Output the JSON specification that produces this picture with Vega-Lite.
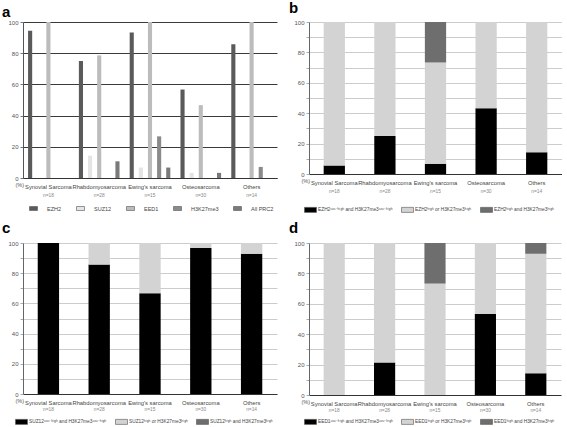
{
  "$schema": "https://vega.github.io/schema/vega-lite/v6.json",
  "background": "white",
  "padding": {"left": 2, "top": 1, "right": 0, "bottom": 0},
  "config": {
    "view": {"stroke": null},
    "font": "Liberation Sans",
    "title": {"font": "Liberation Sans", "fontSize": 15, "fontWeight": "bold", "color": "#000", "anchor": "start", "frame": "group", "offset": 0},
    "axis": {"labelFontSize": 6, "labelColor": "#555", "labelFont": "Liberation Sans", "titleFont": "Liberation Sans", "titleFontSize": 5.5, "titleFontWeight": "normal", "titleColor": "#555"},
    "legend": {"labelFont": "Liberation Sans", "labelColor": "#444", "title": null}
  },
  "resolve": {"scale": {"color": "independent"}, "legend": {"color": "independent"}},
  "spacing": 7,
  "vconcat": [
    {
      "spacing": 12,
      "resolve": {"scale": {"color": "independent"}, "legend": {"color": "independent"}},
      "hconcat": [
        {
          "title": {"text": "a", "dx": -21, "offset": -1},
          "width": 254,
          "height": 156,
          "data": {"values": [
            {"cat": "Synovial Sarcoma|n=18", "m": "EZH2", "v": 94.4},
            {"cat": "Synovial Sarcoma|n=18", "m": "SUZ12", "v": 0},
            {"cat": "Synovial Sarcoma|n=18", "m": "EED1", "v": 100},
            {"cat": "Synovial Sarcoma|n=18", "m": "H3K27me3", "v": 0},
            {"cat": "Synovial Sarcoma|n=18", "m": "All PRC2", "v": 0},
            {"cat": "Rhabdomyosarcoma|n=28", "m": "EZH2", "v": 75},
            {"cat": "Rhabdomyosarcoma|n=28", "m": "SUZ12", "v": 14.3},
            {"cat": "Rhabdomyosarcoma|n=28", "m": "EED1", "v": 78.6},
            {"cat": "Rhabdomyosarcoma|n=28", "m": "H3K27me3", "v": 0},
            {"cat": "Rhabdomyosarcoma|n=28", "m": "All PRC2", "v": 10.7},
            {"cat": "Ewing's sarcoma|n=15", "m": "EZH2", "v": 93.3},
            {"cat": "Ewing's sarcoma|n=15", "m": "SUZ12", "v": 6.7},
            {"cat": "Ewing's sarcoma|n=15", "m": "EED1", "v": 100},
            {"cat": "Ewing's sarcoma|n=15", "m": "H3K27me3", "v": 26.7},
            {"cat": "Ewing's sarcoma|n=15", "m": "All PRC2", "v": 6.7},
            {"cat": "Osteosarcoma|n=30", "m": "EZH2", "v": 56.7},
            {"cat": "Osteosarcoma|n=30", "m": "SUZ12", "v": 3.3},
            {"cat": "Osteosarcoma|n=30", "m": "EED1", "v": 46.7},
            {"cat": "Osteosarcoma|n=30", "m": "H3K27me3", "v": 0},
            {"cat": "Osteosarcoma|n=30", "m": "All PRC2", "v": 3.3},
            {"cat": "Others|n=14", "m": "EZH2", "v": 85.7},
            {"cat": "Others|n=14", "m": "SUZ12", "v": 0},
            {"cat": "Others|n=14", "m": "EED1", "v": 100},
            {"cat": "Others|n=14", "m": "H3K27me3", "v": 7.1},
            {"cat": "Others|n=14", "m": "All PRC2", "v": 0}
          ]},
          "layer": [
            {
              "mark": {"type": "bar"},
              "encoding": {
                "x": {"field": "cat", "type": "nominal", "sort": null, "title": null,
                  "scale": {"paddingInner": 0.2, "paddingOuter": 0.1},
                  "axis": {"labelExpr": "split(datum.label, '|')[0]", "labelAngle": 0, "ticks": false, "domainColor": "#333", "labelFontSize": 5.8, "labelColor": "#444", "labelPadding": 5}},
                "xOffset": {"field": "m", "type": "nominal", "sort": ["EZH2", "SUZ12", "EED1", "H3K27me3", "All PRC2"], "scale": {"paddingInner": 0.55, "paddingOuter": 0}},
                "y": {"field": "v", "type": "quantitative", "scale": {"domain": [0, 100]},
                  "axis": {"values": [0, 20, 40, 60, 80, 100], "grid": true, "gridColor": "#3a3a3a", "gridOpacity": 1, "domainColor": "#555", "tickSize": 3, "tickColor": "#777", "title": "(%)", "titleAngle": 0, "titleAlign": "left", "titleBaseline": "middle", "titleX": -8, "titleY": 162}},
                "color": {"field": "m", "type": "nominal",
                  "scale": {"domain": ["EZH2", "SUZ12", "EED1", "H3K27me3", "All PRC2"], "range": ["#5a5a5a", "#e4e4e4", "#bcbcbc", "#8a8a8a", "#7a7a7a"]},
                  "legend": {"orient": "none", "legendX": 6, "legendY": 182, "direction": "horizontal", "symbolType": "M-1,-0.5H1V0.5H-1Z", "symbolSize": 64, "symbolStrokeColor": "#555", "symbolStrokeWidth": 0.6, "labelFontSize": 5.5, "labelOffset": 9, "columnPadding": 13}}
              }
            },
            {
              "mark": {"type": "bar", "opacity": 0},
              "encoding": {
                "x": {"field": "cat", "type": "nominal", "sort": null, "title": null,
                  "axis": {"orient": "bottom", "offset": 9, "labelExpr": "split(datum.label, '|')[1]", "labelAngle": 0, "ticks": false, "domain": false, "labelFontSize": 4.8, "labelColor": "#888", "labelPadding": 5}}
              }
            }
          ],
          "resolve": {"axis": {"x": "independent"}}
        },
        {
          "title": {"text": "b", "dx": -20, "offset": 3},
          "width": 253,
          "height": 152,
          "data": {"values": [
            {"cat": "Synovial Sarcoma|n=18", "g": "EZH2ⁿᵒⁿ⁻ʰⁱᵍʰ and H3K27me3ⁿᵒⁿ⁻ʰⁱᵍʰ", "k": 1, "v": 5.6},
            {"cat": "Synovial Sarcoma|n=18", "g": "EZH2ʰⁱᵍʰ or H3K27me3ʰⁱᵍʰ", "k": 2, "v": 94.4},
            {"cat": "Rhabdomyosarcoma|n=28", "g": "EZH2ⁿᵒⁿ⁻ʰⁱᵍʰ and H3K27me3ⁿᵒⁿ⁻ʰⁱᵍʰ", "k": 1, "v": 25},
            {"cat": "Rhabdomyosarcoma|n=28", "g": "EZH2ʰⁱᵍʰ or H3K27me3ʰⁱᵍʰ", "k": 2, "v": 75},
            {"cat": "Ewing's sarcoma|n=15", "g": "EZH2ⁿᵒⁿ⁻ʰⁱᵍʰ and H3K27me3ⁿᵒⁿ⁻ʰⁱᵍʰ", "k": 1, "v": 6.7},
            {"cat": "Ewing's sarcoma|n=15", "g": "EZH2ʰⁱᵍʰ or H3K27me3ʰⁱᵍʰ", "k": 2, "v": 66.6},
            {"cat": "Ewing's sarcoma|n=15", "g": "EZH2ʰⁱᵍʰ and H3K27me3ʰⁱᵍʰ", "k": 3, "v": 26.7},
            {"cat": "Osteosarcoma|n=30", "g": "EZH2ⁿᵒⁿ⁻ʰⁱᵍʰ and H3K27me3ⁿᵒⁿ⁻ʰⁱᵍʰ", "k": 1, "v": 43.3},
            {"cat": "Osteosarcoma|n=30", "g": "EZH2ʰⁱᵍʰ or H3K27me3ʰⁱᵍʰ", "k": 2, "v": 56.7},
            {"cat": "Others|n=14", "g": "EZH2ⁿᵒⁿ⁻ʰⁱᵍʰ and H3K27me3ⁿᵒⁿ⁻ʰⁱᵍʰ", "k": 1, "v": 14.3},
            {"cat": "Others|n=14", "g": "EZH2ʰⁱᵍʰ or H3K27me3ʰⁱᵍʰ", "k": 2, "v": 85.7}
          ]},
          "layer": [
            {
              "mark": {"type": "bar"},
              "encoding": {
                "x": {"field": "cat", "type": "nominal", "sort": null, "title": null,
                  "scale": {"paddingInner": 0.58, "paddingOuter": 0.29},
                  "axis": {"labelExpr": "split(datum.label, '|')[0]", "labelAngle": 0, "ticks": false, "domainColor": "#333", "labelFontSize": 5.8, "labelColor": "#444", "labelPadding": 5}},
                "y": {"field": "v", "type": "quantitative", "stack": "zero", "scale": {"domain": [0, 100]},
                  "axis": {"values": [0, 10, 20, 30, 40, 50, 60, 70, 80, 90, 100], "labelExpr": "datum.value % 20 == 0 ? datum.label : ''", "grid": true, "gridColor": "#cccccc", "gridOpacity": 1, "domainColor": "#666", "tickSize": 3, "tickColor": "#aaa", "title": "(%)", "titleAngle": 0, "titleAlign": "left", "titleBaseline": "middle", "titleX": -8, "titleY": 158}},
                "color": {"field": "g", "type": "nominal",
                  "scale": {"domain": ["EZH2ⁿᵒⁿ⁻ʰⁱᵍʰ and H3K27me3ⁿᵒⁿ⁻ʰⁱᵍʰ", "EZH2ʰⁱᵍʰ or H3K27me3ʰⁱᵍʰ", "EZH2ʰⁱᵍʰ and H3K27me3ʰⁱᵍʰ"], "range": ["#000000", "#d3d3d3", "#6e6e6e"]},
                  "legend": {"orient": "none", "legendX": -5, "legendY": 181, "direction": "horizontal", "symbolType": "M-1,-0.42H1V0.42H-1Z", "symbolSize": 144, "symbolStrokeColor": "#555", "symbolStrokeWidth": 0.6, "labelFontSize": 4.8, "labelOffset": 1, "columnPadding": 7}},
                "order": {"field": "k", "type": "quantitative"}
              }
            },
            {
              "mark": {"type": "bar", "opacity": 0},
              "encoding": {
                "x": {"field": "cat", "type": "nominal", "sort": null, "title": null,
                  "axis": {"orient": "bottom", "offset": 9, "labelExpr": "split(datum.label, '|')[1]", "labelAngle": 0, "ticks": false, "domain": false, "labelFontSize": 4.8, "labelColor": "#888", "labelPadding": 5}}
              }
            }
          ],
          "resolve": {"axis": {"x": "independent"}}
        }
      ]
    },
    {
      "spacing": 12,
      "resolve": {"scale": {"color": "independent"}, "legend": {"color": "independent"}},
      "hconcat": [
        {
          "title": {"text": "c", "dx": -21},
          "width": 254,
          "height": 151,
          "data": {"values": [
            {"cat": "Synovial Sarcoma|n=18", "g": "SUZ12ⁿᵒⁿ⁻ʰⁱᵍʰ and H3K27me3ⁿᵒⁿ⁻ʰⁱᵍʰ", "k": 1, "v": 100},
            {"cat": "Rhabdomyosarcoma|n=28", "g": "SUZ12ⁿᵒⁿ⁻ʰⁱᵍʰ and H3K27me3ⁿᵒⁿ⁻ʰⁱᵍʰ", "k": 1, "v": 85.7},
            {"cat": "Rhabdomyosarcoma|n=28", "g": "SUZ12ʰⁱᵍʰ or H3K27me3ʰⁱᵍʰ", "k": 2, "v": 14.3},
            {"cat": "Ewing's sarcoma|n=15", "g": "SUZ12ⁿᵒⁿ⁻ʰⁱᵍʰ and H3K27me3ⁿᵒⁿ⁻ʰⁱᵍʰ", "k": 1, "v": 66.7},
            {"cat": "Ewing's sarcoma|n=15", "g": "SUZ12ʰⁱᵍʰ or H3K27me3ʰⁱᵍʰ", "k": 2, "v": 33.3},
            {"cat": "Osteosarcoma|n=30", "g": "SUZ12ⁿᵒⁿ⁻ʰⁱᵍʰ and H3K27me3ⁿᵒⁿ⁻ʰⁱᵍʰ", "k": 1, "v": 96.7},
            {"cat": "Osteosarcoma|n=30", "g": "SUZ12ʰⁱᵍʰ or H3K27me3ʰⁱᵍʰ", "k": 2, "v": 3.3},
            {"cat": "Others|n=14", "g": "SUZ12ⁿᵒⁿ⁻ʰⁱᵍʰ and H3K27me3ⁿᵒⁿ⁻ʰⁱᵍʰ", "k": 1, "v": 92.9},
            {"cat": "Others|n=14", "g": "SUZ12ʰⁱᵍʰ or H3K27me3ʰⁱᵍʰ", "k": 2, "v": 7.1}
          ]},
          "layer": [
            {
              "mark": {"type": "bar"},
              "encoding": {
                "x": {"field": "cat", "type": "nominal", "sort": null, "title": null,
                  "scale": {"paddingInner": 0.58, "paddingOuter": 0.29},
                  "axis": {"labelExpr": "split(datum.label, '|')[0]", "labelAngle": 0, "ticks": false, "domainColor": "#333", "labelFontSize": 5.8, "labelColor": "#444", "labelPadding": 5}},
                "y": {"field": "v", "type": "quantitative", "stack": "zero", "scale": {"domain": [0, 100]},
                  "axis": {"values": [0, 10, 20, 30, 40, 50, 60, 70, 80, 90, 100], "labelExpr": "datum.value % 20 == 0 ? datum.label : ''", "grid": true, "gridColor": "#cccccc", "gridOpacity": 1, "domainColor": "#666", "tickSize": 3, "tickColor": "#aaa", "title": "(%)", "titleAngle": 0, "titleAlign": "left", "titleBaseline": "middle", "titleX": -8, "titleY": 157}},
                "color": {"field": "g", "type": "nominal",
                  "scale": {"domain": ["SUZ12ⁿᵒⁿ⁻ʰⁱᵍʰ and H3K27me3ⁿᵒⁿ⁻ʰⁱᵍʰ", "SUZ12ʰⁱᵍʰ or H3K27me3ʰⁱᵍʰ", "SUZ12ʰⁱᵍʰ and H3K27me3ʰⁱᵍʰ"], "range": ["#000000", "#d3d3d3", "#6e6e6e"]},
                  "legend": {"orient": "none", "legendX": -8, "legendY": 172, "direction": "horizontal", "symbolType": "M-1,-0.42H1V0.42H-1Z", "symbolSize": 144, "symbolStrokeColor": "#555", "symbolStrokeWidth": 0.6, "labelFontSize": 4.8, "labelOffset": 1, "columnPadding": 7}},
                "order": {"field": "k", "type": "quantitative"}
              }
            },
            {
              "mark": {"type": "bar", "opacity": 0},
              "encoding": {
                "x": {"field": "cat", "type": "nominal", "sort": null, "title": null,
                  "axis": {"orient": "bottom", "offset": 9, "labelExpr": "split(datum.label, '|')[1]", "labelAngle": 0, "ticks": false, "domain": false, "labelFontSize": 4.8, "labelColor": "#888", "labelPadding": 3}}
              }
            }
          ],
          "resolve": {"axis": {"x": "independent"}}
        },
        {
          "title": {"text": "d", "dx": -20},
          "width": 252,
          "height": 152,
          "data": {"values": [
            {"cat": "Synovial Sarcoma|n=18", "g": "EED1ʰⁱᵍʰ or H3K27me3ʰⁱᵍʰ", "k": 2, "v": 100},
            {"cat": "Rhabdomyosarcoma|n=28", "g": "EED1ⁿᵒⁿ⁻ʰⁱᵍʰ and H3K27me3ⁿᵒⁿ⁻ʰⁱᵍʰ", "k": 1, "v": 21.4},
            {"cat": "Rhabdomyosarcoma|n=28", "g": "EED1ʰⁱᵍʰ or H3K27me3ʰⁱᵍʰ", "k": 2, "v": 78.6},
            {"cat": "Ewing's sarcoma|n=15", "g": "EED1ʰⁱᵍʰ or H3K27me3ʰⁱᵍʰ", "k": 2, "v": 73.3},
            {"cat": "Ewing's sarcoma|n=15", "g": "EED1ʰⁱᵍʰ and H3K27me3ʰⁱᵍʰ", "k": 3, "v": 26.7},
            {"cat": "Osteosarcoma|n=30", "g": "EED1ⁿᵒⁿ⁻ʰⁱᵍʰ and H3K27me3ⁿᵒⁿ⁻ʰⁱᵍʰ", "k": 1, "v": 53.3},
            {"cat": "Osteosarcoma|n=30", "g": "EED1ʰⁱᵍʰ or H3K27me3ʰⁱᵍʰ", "k": 2, "v": 46.7},
            {"cat": "Others|n=14", "g": "EED1ⁿᵒⁿ⁻ʰⁱᵍʰ and H3K27me3ⁿᵒⁿ⁻ʰⁱᵍʰ", "k": 1, "v": 14.3},
            {"cat": "Others|n=14", "g": "EED1ʰⁱᵍʰ or H3K27me3ʰⁱᵍʰ", "k": 2, "v": 78.6},
            {"cat": "Others|n=14", "g": "EED1ʰⁱᵍʰ and H3K27me3ʰⁱᵍʰ", "k": 3, "v": 7.1}
          ]},
          "layer": [
            {
              "mark": {"type": "bar"},
              "encoding": {
                "x": {"field": "cat", "type": "nominal", "sort": null, "title": null,
                  "scale": {"paddingInner": 0.58, "paddingOuter": 0.29},
                  "axis": {"labelExpr": "split(datum.label, '|')[0]", "labelAngle": 0, "ticks": false, "domainColor": "#333", "labelFontSize": 5.8, "labelColor": "#444", "labelPadding": 5}},
                "y": {"field": "v", "type": "quantitative", "stack": "zero", "scale": {"domain": [0, 100]},
                  "axis": {"values": [0, 10, 20, 30, 40, 50, 60, 70, 80, 90, 100], "labelExpr": "datum.value % 20 == 0 ? datum.label : ''", "grid": true, "gridColor": "#cccccc", "gridOpacity": 1, "domainColor": "#666", "tickSize": 3, "tickColor": "#aaa", "title": "(%)", "titleAngle": 0, "titleAlign": "left", "titleBaseline": "middle", "titleX": -8, "titleY": 158}},
                "color": {"field": "g", "type": "nominal",
                  "scale": {"domain": ["EED1ⁿᵒⁿ⁻ʰⁱᵍʰ and H3K27me3ⁿᵒⁿ⁻ʰⁱᵍʰ", "EED1ʰⁱᵍʰ or H3K27me3ʰⁱᵍʰ", "EED1ʰⁱᵍʰ and H3K27me3ʰⁱᵍʰ"], "range": ["#000000", "#d3d3d3", "#6e6e6e"]},
                  "legend": {"orient": "none", "legendX": -5, "legendY": 172, "direction": "horizontal", "symbolType": "M-1,-0.42H1V0.42H-1Z", "symbolSize": 144, "symbolStrokeColor": "#555", "symbolStrokeWidth": 0.6, "labelFontSize": 4.8, "labelOffset": 1, "columnPadding": 7}},
                "order": {"field": "k", "type": "quantitative"}
              }
            },
            {
              "mark": {"type": "bar", "opacity": 0},
              "encoding": {
                "x": {"field": "cat", "type": "nominal", "sort": null, "title": null,
                  "axis": {"orient": "bottom", "offset": 9, "labelExpr": "split(datum.label, '|')[1]", "labelAngle": 0, "ticks": false, "domain": false, "labelFontSize": 4.8, "labelColor": "#888", "labelPadding": 3}}
              }
            }
          ],
          "resolve": {"axis": {"x": "independent"}}
        }
      ]
    }
  ]
}
